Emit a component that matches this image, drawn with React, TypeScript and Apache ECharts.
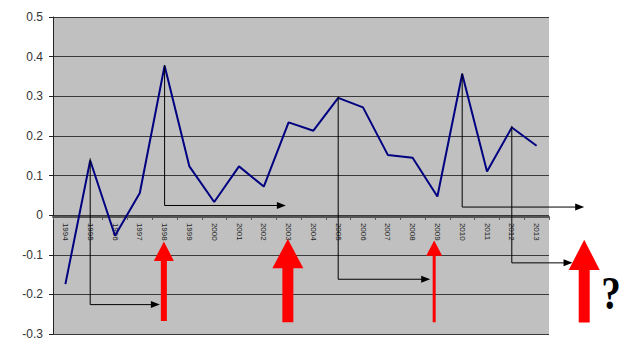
import React, { useEffect, useRef } from "react";
import * as echarts from "echarts";

const years = ["1994","1995","1996","1997","1998","1999","2000","2001","2002","2003","2004","2005","2006","2007","2008","2009","2010","2011","2012","2013"];
const values = [-0.174, 0.138, -0.052, 0.056, 0.377, 0.123, 0.033, 0.123, 0.072, 0.234, 0.213, 0.296, 0.272, 0.152, 0.145, 0.047, 0.356, 0.11, 0.221, 0.175];
const yTicks = { min: -0.3, max: 0.5, interval: 0.1 };

// black L-shaped arrows: from category index (at its data value) down to level, then right to index "to"
const blackFrom = [1, 4, 11, 16, 18];
const blackLevel = [-0.237, 0.017, -0.172, 0.013, -0.13];
const blackTo = [3.81, 8.89, 14.71, 20.92, 20.45];

// red upward arrows
const redAt = [3.97, 8.97, 14.87, 20.92];
const redTip = [-0.075, -0.069, -0.073, -0.071];
const redHeadBase = [-0.125, -0.144, -0.112, -0.148];
const redBottom = [-0.279, -0.282, -0.282, -0.283];
const redShaftW = [6, 11, 3, 11];
const redHeadW = [20, 31, 16, 31];

export default function App() {
  const ref = useRef<HTMLDivElement>(null);
  useEffect(() => {
    if (!ref.current) return;
    const chart = echarts.init(ref.current, null, { renderer: "svg" });
    const option: any = {
      animation: false,
      backgroundColor: "#ffffff",
      grid: {
        left: 53,
        right: 81,
        top: 17,
        bottom: 22,
        show: true,
        backgroundColor: "#c0c0c0",
        borderWidth: 0,
      },
      xAxis: {
        type: "category",
        data: years,
        boundaryGap: true,
        position: "bottom",
        axisLine: { onZero: false, lineStyle: { color: "#555555", width: 2 } },
        axisTick: { show: true, inside: false, length: 3, lineStyle: { color: "#555555" } },
        axisLabel: {
          rotate: -90,
          fontSize: 8,
          color: "#222222",
          fontFamily: "Liberation Sans, Arial, sans-serif",
          margin: 6,
          interval: 0,
        },
        splitLine: { show: false },
      },
      yAxis: {
        type: "value",
        min: yTicks.min,
        max: yTicks.max,
        interval: yTicks.interval,
        axisLine: { show: true, lineStyle: { color: "#222222", width: 1 } },
        axisTick: { show: true, length: 4, lineStyle: { color: "#222222" } },
        axisLabel: {
          fontSize: 12,
          color: "#333333",
          fontFamily: "Liberation Sans, Arial, sans-serif",
          margin: 10,
          formatter: (v: number) => String(Math.round(v * 10) / 10),
        },
        splitLine: { show: true, lineStyle: { color: "#3a3a3a", width: 1 } },
      },
      series: [
        {
          type: "line",
          data: values,
          symbol: "none",
          lineStyle: { color: "#000080", width: 2 },
          z: 3,
        },
      ],
    };
    chart.setOption(option);

    const px = (i: number) => {
      const a = chart.convertToPixel({ gridIndex: 0 }, [0, 0]) as number[];
      const b = chart.convertToPixel({ gridIndex: 0 }, [1, 0]) as number[];
      return a[0] + i * (b[0] - a[0]);
    };
    const py = (v: number) => (chart.convertToPixel({ gridIndex: 0 }, [0, v]) as number[])[1];

    const zeroOffset = py(yTicks.min) - py(0);

    const graphics: any[] = [];
    blackFrom.forEach((f, k) => {
      const x0 = px(f);
      const y0 = py(values[f]);
      const y1 = py(blackLevel[k]);
      const x1 = px(blackTo[k]);
      const headLen = 9;
      graphics.push({
        type: "polyline",
        z: 10,
        shape: { points: [[x0, y0], [x0, y1], [x1 - headLen + 1, y1]] },
        style: { stroke: "#000000", lineWidth: 1, fill: null },
      });
      graphics.push({
        type: "polygon",
        z: 10,
        shape: { points: [[x1 - headLen, y1 - 3.5], [x1, y1], [x1 - headLen, y1 + 3.5]] },
        style: { fill: "#000000" },
      });
    });
    redAt.forEach((a, k) => {
      const x = px(a);
      const yt = py(redTip[k]);
      const yh = py(redHeadBase[k]);
      const yb = py(redBottom[k]);
      const sw = redShaftW[k] / 2;
      const hw = redHeadW[k] / 2;
      graphics.push({
        type: "polygon",
        z: 20,
        shape: {
          points: [
            [x, yt],
            [x + hw, yh],
            [x + sw, yh],
            [x + sw, yb],
            [x - sw, yb],
            [x - sw, yh],
            [x - hw, yh],
          ],
        },
        style: { fill: "#ff0000" },
      });
    });
    graphics.push({
      type: "text",
      z: 20,
      x: 611,
      y: 293,
      scaleX: 0.85,
      style: {
        text: "?",
        fontSize: 46,
        fontWeight: "bold",
        fontFamily: "Liberation Serif, Times New Roman, serif",
        fill: "#000000",
        align: "center",
        verticalAlign: "middle",
      },
    });
    chart.setOption({ xAxis: { offset: -zeroOffset }, graphic: graphics });

    return () => chart.dispose();
  }, []);
  return <div ref={ref} style={{ width: 630, height: 356, position: "absolute", left: 0, top: 0 }} />;
}
